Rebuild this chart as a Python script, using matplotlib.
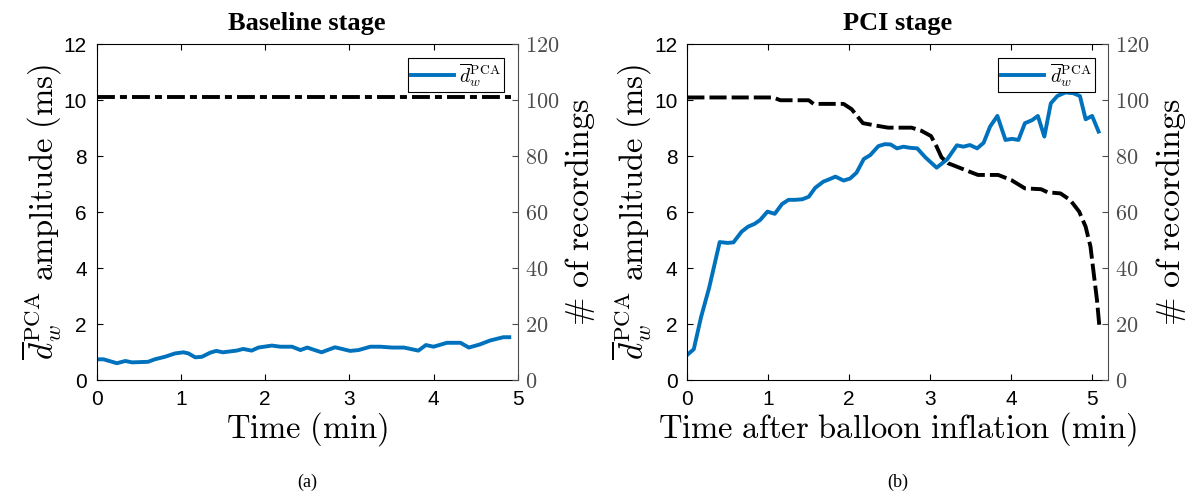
import matplotlib.pyplot as plt

plt.rcParams['mathtext.fontset'] = 'cm'
plt.rcParams['font.family'] = ['Liberation Sans', 'DejaVu Sans']

# Baseline stage
base_t = [0, 0.08, 0.24, 0.34, 0.42, 0.61, 0.69, 0.81, 0.93, 1.03, 1.09, 1.17,
          1.25, 1.35, 1.42, 1.5, 1.66, 1.74, 1.84, 1.92, 2.08, 2.18, 2.32, 2.42,
          2.5, 2.67, 2.83, 3.01, 3.11, 3.25, 3.37, 3.51, 3.65, 3.82, 3.91, 4.0,
          4.16, 4.32, 4.42, 4.55, 4.67, 4.75, 4.83, 4.9]
base_amp = [0.74, 0.74, 0.6, 0.68, 0.63, 0.65, 0.74, 0.83, 0.95, 0.99, 0.95, 0.81,
            0.83, 0.98, 1.04, 0.99, 1.05, 1.11, 1.05, 1.16, 1.23, 1.19, 1.19, 1.07,
            1.16, 0.99, 1.17, 1.04, 1.07, 1.19, 1.19, 1.16, 1.16, 1.05, 1.25, 1.19,
            1.33, 1.33, 1.16, 1.27, 1.41, 1.47, 1.53, 1.53]
base_rec_t = [0, 4.92]
base_rec_n = [101, 101]

# PCI stage
pci_t = [0, 0.08, 0.17, 0.27, 0.40, 0.50, 0.57, 0.67, 0.75, 0.83, 0.90, 0.99,
         1.08, 1.17, 1.25, 1.33, 1.42, 1.50, 1.58, 1.68, 1.75, 1.83, 1.93, 2.01,
         2.09, 2.18, 2.26, 2.36, 2.44, 2.51, 2.59, 2.67, 2.75, 2.84, 2.94, 3.0,
         3.08, 3.21, 3.33, 3.41, 3.49, 3.58, 3.66, 3.74, 3.83, 3.93, 4.01, 4.09,
         4.17, 4.26, 4.33, 4.41, 4.49, 4.57, 4.67, 4.77, 4.85, 4.92, 5.0, 5.08]
pci_amp = [0.9, 1.1, 2.25, 3.3, 4.93, 4.9, 4.92, 5.3, 5.48, 5.58, 5.72, 6.02,
           5.94, 6.29, 6.44, 6.44, 6.46, 6.55, 6.87, 7.09, 7.17, 7.27, 7.13, 7.2,
           7.41, 7.9, 8.04, 8.36, 8.43, 8.42, 8.28, 8.34, 8.3, 8.28, 7.96, 7.8,
           7.59, 7.89, 8.39, 8.34, 8.4, 8.28, 8.48, 9.06, 9.44, 8.58, 8.62, 8.58,
           9.18, 9.29, 9.44, 8.7, 9.89, 10.15, 10.28, 10.25, 10.15, 9.32, 9.44, 8.88]
pci_rec_t = [0, 1.06, 1.15, 1.5, 1.56, 1.93, 2.03, 2.11, 2.17, 2.36, 2.48, 2.77,
             2.89, 3.01, 3.08, 3.14, 3.22, 3.43, 3.59, 3.84, 4.0, 4.17, 4.37, 4.45,
             4.61, 4.73, 4.84, 4.92, 4.98, 5.02, 5.06, 5.09]
pci_rec_n = [101, 101, 100, 100, 98.7, 98.7, 96.8, 93.9, 91.8, 90.8, 90.2, 90.2,
             89.1, 87.2, 83.4, 79.6, 77.5, 75.1, 73.3, 73.3, 71.5, 68.5, 68.2, 67.1,
             66.7, 64.3, 60.2, 54.8, 47.7, 38.1, 28.6, 19.1]

x_ticks = [0, 1, 2, 3, 4, 5]
amp_ticks = [0, 2, 4, 6, 8, 10, 12]
rec_ticks = [0, 20, 40, 60, 80, 100, 120]

blue = '#0072BD'
grey = '#4d4d4d'
W, H = 1193, 495

fig = plt.figure(figsize=(W / 100, H / 100), dpi=100)


def panel(left_px, t, amp, rt, rn, rec_style, xmax, title, xlabel, tag):
    ax = fig.add_axes([left_px / W, 1 - 380 / H, 421 / W, 335.7 / H])
    ax2 = ax.twinx()
    ax2.plot(rt, rn, color='black', lw=2.8, linestyle=rec_style)
    line, = ax.plot(t, amp, color=blue, lw=2.8, solid_joinstyle='round',
                    label=r'$\overline{d}_w^{\mathrm{PCA}}$')

    ax.set_xlim(0, xmax)
    ax.set_ylim(0, 12)
    ax2.set_ylim(0, 120)
    ax.set_xticks(x_ticks)
    ax.set_yticks(amp_ticks)
    ax2.set_yticks(rec_ticks, labels=[rf'${v}$' for v in rec_ticks])

    ax.tick_params(axis='x', direction='in', top=True, length=4, labelsize=15, pad=7)
    ax.tick_params(axis='y', direction='in', length=4, labelsize=15, pad=7)
    ax2.tick_params(axis='y', direction='in', length=4, colors=grey,
                    labelsize=16, pad=5)
    ax.spines['right'].set_visible(False)
    for s in ['left', 'top', 'bottom']:
        ax2.spines[s].set_visible(False)
    ax2.spines['right'].set_color(grey)

    ax.set_xlabel(xlabel, fontsize=23.5, labelpad=1)
    ax.set_ylabel(r'$\overline{d}_w^{\mathrm{PCA}}\ \mathrm{amplitude\ (ms)}$',
                  fontsize=23.5, labelpad=0)
    ax2.set_ylabel(r'$\mathrm{\#\ of\ recordings}$', fontsize=24.5, labelpad=3)
    ax.set_title(title, fontsize=19, fontweight='bold',
                 family='Liberation Serif', pad=10)

    leg = ax2.legend(handles=[line], loc='upper right', fontsize=14,
                     handlelength=2.2, handletextpad=0.3, fancybox=False,
                     framealpha=1, edgecolor='black', borderaxespad=0.7,
                     borderpad=0.15)
    leg.get_frame().set_linewidth(0.8)

    cx = (left_px + 421 / 2) / W
    fig.text(cx, 1 - 482 / H, tag, ha='center', va='center', fontsize=13,
             family='Liberation Serif')


panel(96.7, base_t, base_amp, base_rec_t, base_rec_n, (0, (4.6, 1.3, 1.8, 1.3)),
      5, 'Baseline stage', r'$\mathrm{Time\ (min)}$', '(a)')
panel(687.3, pci_t, pci_amp, pci_rec_t, pci_rec_n, (0, (4.4, 1.3)),
      5.2, 'PCI stage', r'$\mathrm{Time\ after\ balloon\ inflation\ (min)}$', '(b)')

fig.savefig('out.png', dpi=100)
